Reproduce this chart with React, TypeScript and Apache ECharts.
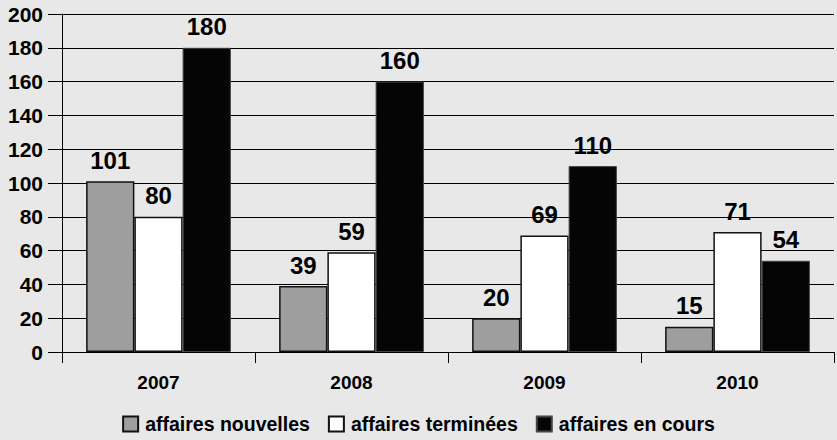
import React, { useEffect, useRef } from "react";
import * as echarts from "echarts";

const categories = ["2007", "2008", "2009", "2010"];
const nouvelles = [101, 39, 20, 15];
const terminees = [80, 59, 69, 71];
const enCours = [180, 160, 110, 54];
const seriesNames = ["affaires nouvelles", "affaires terminées", "affaires en cours"];

export default function App() {
  const ref = useRef<HTMLDivElement>(null);
  useEffect(() => {
    const chart = echarts.init(ref.current!, null, { renderer: "svg" });
    const font = "'Liberation Sans', Arial, sans-serif";
    const label = {
      show: true,
      position: "top" as const,
      distance: 9,
      color: "#000",
      fontFamily: font,
      fontWeight: "bold" as const,
      fontSize: 24,
    };
    chart.setOption({
      animation: false,
      backgroundColor: "#e8e8e8",
      grid: { left: 62, right: 3, top: 14, bottom: 88 },
      xAxis: {
        type: "category",
        data: categories,
        axisLine: { lineStyle: { color: "#000", width: 1 } },
        axisTick: { show: true, length: 11, lineStyle: { color: "#000" } },
        axisLabel: {
          color: "#000",
          fontFamily: font,
          fontWeight: "bold",
          fontSize: 19,
          margin: 21,
        },
      },
      yAxis: {
        type: "value",
        min: 0,
        max: 200,
        interval: 20,
        axisLine: { show: true, lineStyle: { color: "#000" } },
        axisTick: { show: true, length: 14, lineStyle: { color: "#000" } },
        splitLine: { lineStyle: { color: "#000", width: 1 } },
        axisLabel: {
          color: "#000",
          fontFamily: font,
          fontWeight: "bold",
          fontSize: 21,
          margin: 19,
        },
      },
      legend: {
        bottom: 1,
        left: "center",
        icon: "rect",
        itemWidth: 15,
        itemHeight: 15,
        itemGap: 18,
        textStyle: {
          color: "#000",
          fontFamily: font,
          fontWeight: "bold",
          fontSize: 19.5,
          padding: [0, 0, 0, 2],
        },
        data: seriesNames,
      },
      series: [
        {
          name: seriesNames[0],
          type: "bar",
          data: nouvelles,
          barGap: "0%",
          barCategoryGap: "25%",
          itemStyle: { color: "#9e9e9e", borderColor: "#111", borderWidth: 1.5 },
          label,
        },
        {
          name: seriesNames[1],
          type: "bar",
          data: terminees,
          itemStyle: { color: "#ffffff", borderColor: "#111", borderWidth: 1.5 },
          label,
        },
        {
          name: seriesNames[2],
          type: "bar",
          data: enCours,
          itemStyle: { color: "#050505", borderColor: "#444", borderWidth: 1 },
          label,
        },
      ],
    });
    return () => chart.dispose();
  }, []);
  return <div ref={ref} style={{ width: 837, height: 440, position: "absolute", left: 0, top: 0 }} />;
}
